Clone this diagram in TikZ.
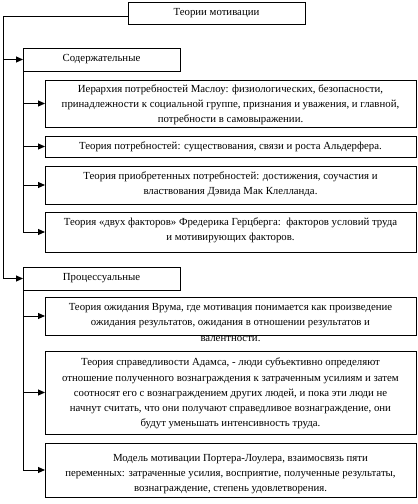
\documentclass[tikz,border=0pt]{standalone}
\usepackage{fontspec}
\setmainfont{Liberation Serif}
\usetikzlibrary{arrows.meta}
\begin{document}
\begin{tikzpicture}[x=1pt,y=-1pt,
  box/.style={draw,line width=1pt,inner sep=0pt,outer sep=0pt,fill=white},
  txt/.style={align=center,inner sep=0pt,font=\fontsize{10.8}{15.2}\selectfont},
  conn/.style={line width=1pt},
  arr/.style={line width=1pt,-{Triangle[length=7pt,width=6pt]}}]
\useasboundingbox[fill=white] (0,0) rectangle (418,504);
% headers
\node[box,txt,minimum width=177pt,minimum height=22pt] (top) at (216.5,13) {Теории мотивации};
\node[box,txt,minimum width=157pt,minimum height=23pt] (sod) at (101.5,59.5) {Содержательные};
\node[box,txt,minimum width=157pt,minimum height=23pt] (proc) at (101.5,278.5) {Процессуальные};
% boxes
\node[box,minimum width=371pt,minimum height=47pt] (b1) at (230.5,103.5) {};
\node[box,minimum width=371pt,minimum height=21pt] (b2) at (230.5,146.5) {};
\node[box,minimum width=371pt,minimum height=38pt] (b3) at (230.5,185) {};
\node[box,minimum width=371pt,minimum height=40pt] (b4) at (230.5,232) {};
\node[box,minimum width=371pt,minimum height=38pt] (b5) at (230.5,316) {};
\node[box,minimum width=371pt,minimum height=83pt] (b6) at (230.5,392.5) {};
\node[box,minimum width=371pt,minimum height=54pt] (b7) at (230.5,470) {};
% texts
\node[txt] (t1) at (230.5,105) {Иерархия потребностей Маслоу: физиологических, безопасности,\\принадлежности к социальной группе, признания и уважения, и главной,\\потребности в самовыражении.};
\node[txt] (t2) at (230.5,146.5) {Теория потребностей: существования, связи и роста Альдерфера.};
\node[txt] (t3) at (230.5,184) {Теория приобретенных потребностей: достижения, соучастия и\\властвования Дэвида Мак Клелланда.};
\node[txt] (t4) at (230.5,230.5) {Теория «двух факторов» Фредерика Герцберга:\ \ факторов условий труда\\и мотивирующих факторов.};
\node[txt] (t5) at (230.5,322.5) {Теория ожидания Врума, где мотивация понимается как произведение\\ожидания результатов, ожидания в отношении результатов и\\валентности.};
\node[txt] (t6) at (230.5,393.5) {Теория справедливости Адамса, - люди субъективно определяют\\отношение полученного вознаграждения к затраченным усилиям и затем\\соотносят его с вознаграждением других людей, и пока эти люди не\\начнут считать, что они получают справедливое вознаграждение, они\\будут уменьшать интенсивность труда.};
\node[txt] (t7) at (230.5,474) {\hspace*{20pt}Модель мотивации Портера-Лоулера, взаимосвязь пяти\\переменных: затраченные усилия, восприятие, полученные результаты,\\вознаграждение, степень удовлетворения.};
% connectors
\coordinate (tk) at (3,0);
\draw[arr] ([yshift=-3pt]top.west) -| (tk |- proc.west) -- (proc.west);
\draw[arr] (tk |- sod.west) -- (sod.west);
\draw[arr] (sod.south west) |- (b4.west);
\draw[arr] (sod.south west |- b1.west) -- (b1.west);
\draw[arr] (sod.south west |- b2.west) -- (b2.west);
\draw[arr] (sod.south west |- b3.west) -- (b3.west);
\draw[arr] (proc.south west) |- (b7.west);
\draw[arr] (proc.south west |- b5.west) -- (b5.west);
\draw[arr] (proc.south west |- b6.west) -- (b6.west);
\end{tikzpicture}
\end{document}
